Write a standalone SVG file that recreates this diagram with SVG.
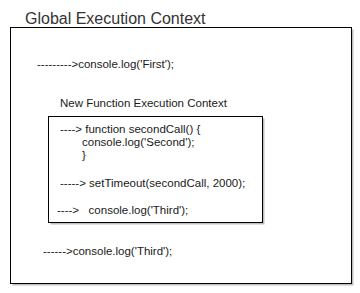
<svg xmlns="http://www.w3.org/2000/svg" width="360" height="293" viewBox="0 0 360 293">
  <style>
    .box { fill: #ffffff; stroke: #000000; stroke-width: 1; }
    .shadow { fill: #000000; opacity: 0.25; }
    .title { font-family: "Liberation Sans", Arial, sans-serif; font-size: 16px; fill: #333333; }
    .label { font-family: "Liberation Sans", Arial, sans-serif; font-size: 11.5px; fill: #1a1a1a; }
  </style>
  <rect width="360" height="293" fill="#ffffff"/>

  <!-- outer context -->
  <g id="global-context">
    <text class="title" x="25" y="24">Global Execution Context</text>
    <rect class="shadow" x="12.5" y="29.5" width="341" height="256"/>
    <rect class="box" x="10.5" y="27.5" width="341" height="256"/>
    <text class="label" x="37" y="68">---------&gt;console.log('First');</text>
    <text class="label" x="43" y="255">------&gt;console.log('Third');</text>
  </g>

  <!-- nested function context -->
  <g id="function-context">
    <text class="label" x="60" y="107">New Function Execution Context</text>
    <rect class="shadow" x="50.5" y="118.5" width="214" height="106"/>
    <rect class="box" x="48.5" y="116.5" width="214" height="106"/>
    <text class="label" x="60" y="133">----&gt; function secondCall() {</text>
    <text class="label" x="82" y="146">console.log('Second');</text>
    <text class="label" x="82" y="159">}</text>
    <text class="label" x="60" y="187">-----&gt; setTimeout(secondCall, 2000);</text>
    <text class="label" x="57" y="214" xml:space="preserve">----&gt;   console.log('Third');</text>
  </g>

  <g id="connectors"/>
</svg>
